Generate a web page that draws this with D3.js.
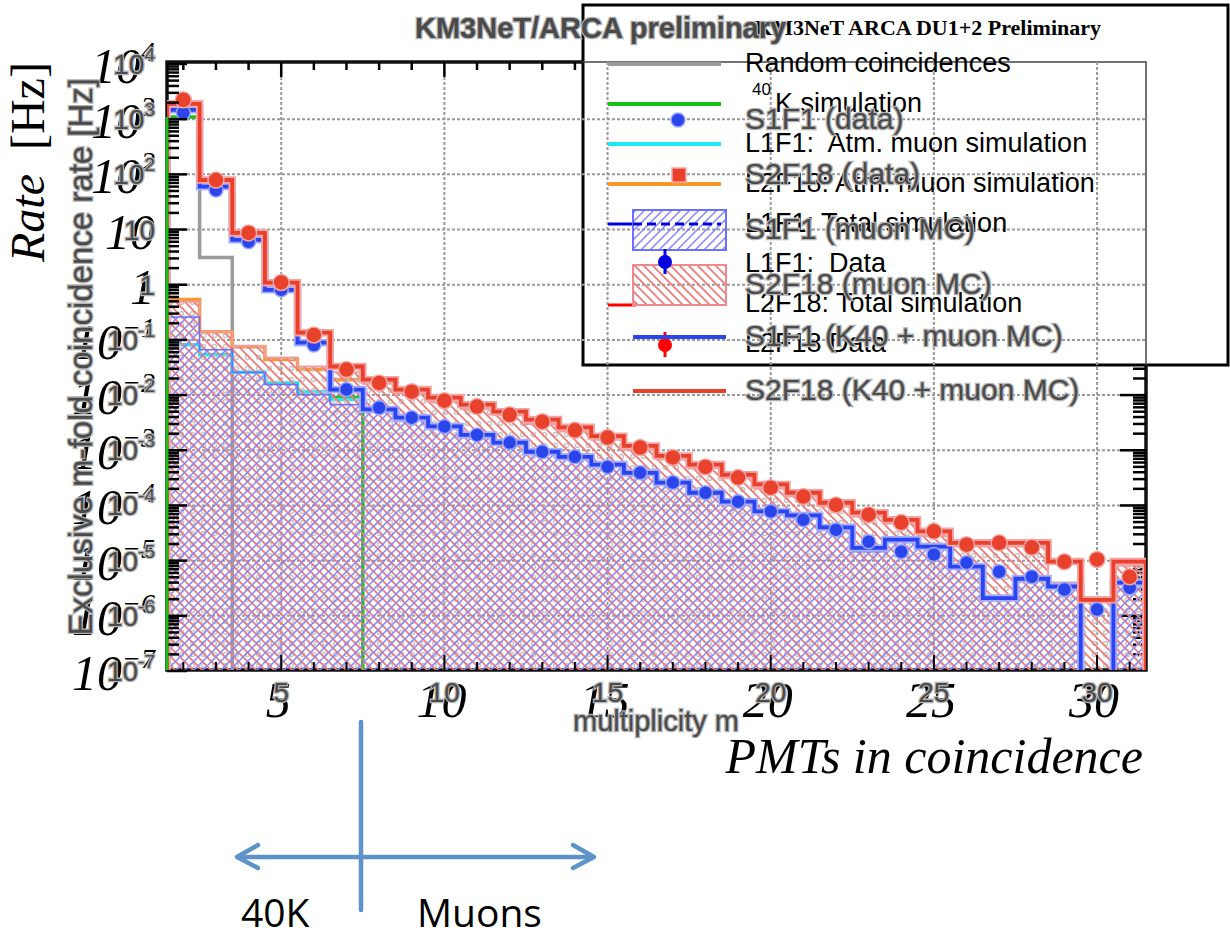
<!DOCTYPE html>
<html>
<head>
<meta charset="utf-8">
<script src="https://cdn.jsdelivr.net/npm/d3@7"></script>
<style>
  body { margin: 0; background: #fff; }
  svg { display: block; }
  text { white-space: pre; }
</style>
</head>
<body>
<script>
// multiplicity bins
var mult = [2,3,4,5,6,7,8,9,10,11,12,13,14,15,16,17,18,19,20,21,22,23,24,25,26,27,28,29,30,31];

// ROOT plot (S1F1 / S2F18)
var s2f18Data  = [2240,79,8.7,1.1,0.123,0.029,0.0166,0.0115,0.0079,0.0062,0.0044,0.0033,0.0023,0.0017,0.00112,7.4e-4,5.0e-4,3.2e-4,2.1e-4,1.45e-4,1.02e-4,6.8e-5,4.9e-5,3.4e-5,1.95e-5,2.1e-5,1.74e-5,9.5e-6,1.05e-5,5.1e-6];
var s1f1Data   = [1310,52,6.0,0.81,0.081,0.0126,0.0059,0.0039,0.0027,0.0019,0.00138,9.4e-4,7.6e-4,5.0e-4,3.9e-4,2.6e-4,1.7e-4,1.17e-4,7.8e-5,5.5e-5,3.6e-5,2.2e-5,1.45e-5,1.29e-5,9.2e-6,6.3e-6,5.1e-6,3.0e-6,1.3e-6,3.2e-6];
var s2f18Total = [1900,79,8.7,1.09,0.135,0.033,0.019,0.0126,0.0090,0.0067,0.0050,0.0036,0.0026,0.0018,0.0012,7.9e-4,5.5e-4,3.6e-4,2.4e-4,1.7e-4,1.12e-4,7.4e-5,5.5e-5,3.4e-5,2.1e-5,2.1e-5,2.1e-5,9.6e-6,1.95e-6,9.6e-6];
var s1f1Total  = [1480,60,6.5,0.81,0.089,0.0126,0.0055,0.0039,0.0027,0.0019,0.00138,9.4e-4,7.6e-4,5.5e-4,3.9e-4,2.6e-4,1.7e-4,1.17e-4,7.8e-5,6.6e-5,4.0e-5,1.7e-5,2.4e-5,1.8e-5,7.8e-6,2.1e-6,4.7e-6,3.4e-6,0,4.0e-6];
var s2f18Muon  = [0.49,0.14,0.078,0.048,0.033,0.026,0.016,0.0107,0.0076,0.0056,0.0043,0.0030,0.0022,0.00155,0.00102,6.8e-4,4.7e-4,3.1e-4,2.0e-4,1.45e-4,9.6e-5,6.3e-5,4.7e-5,2.8e-5,1.8e-5,1.8e-5,1.8e-5,4.0e-6,1.95e-6,8.1e-6];
var s1f1Muon   = [0.26,0.066,0.026,0.0155,0.0102,0.0067,0.0050,0.0036,0.0025,0.0018,0.00126,8.7e-4,7.1e-4,5.0e-4,3.6e-4,2.4e-4,1.58e-4,1.07e-4,7.1e-5,6.0e-5,3.6e-5,1.45e-5,2.2e-5,1.65e-5,7.2e-6,1.95e-6,4.4e-6,3.1e-6,0,3.7e-6];

// older plot (L1F1 / L2F18)
var randomCoinc  = [1480,3.1,0,0,0,0,0,0,0,0,0,0,0,0,0,0,0,0,0,0,0,0,0,0,0,0,0,0,0,0];
var k40Sim       = [1100,60,6.5,0.81,0.089,0.0090,0,0,0,0,0,0,0,0,0,0,0,0,0,0,0,0,0,0,0,0,0,0,0,0];
var l1f1AtmMuon  = [0.082,0.054,0.026,0.0166,0.0115,0.0083,0.0055,0.0039,0.0027,0.0019,0.00138,9.4e-4,7.6e-4,5.5e-4,3.9e-4,2.6e-4,1.7e-4,1.17e-4,7.8e-5,6.6e-5,4.0e-5,1.7e-5,2.4e-5,1.8e-5,7.8e-6,2.1e-6,4.7e-6,3.4e-6,0,4.0e-6];
var l2f18AtmMuon = [0.54,0.14,0.075,0.044,0.029,0.019,0.019,0.0126,0.0090,0.0067,0.0050,0.0036,0.0026,0.0018,0.0012,7.9e-4,5.5e-4,3.6e-4,2.4e-4,1.7e-4,1.12e-4,7.4e-5,5.5e-5,3.4e-5,2.1e-5,2.1e-5,2.1e-5,9.6e-6,1.95e-6,9.6e-6];

// ticks
var decades = [-7,-6,-5,-4,-3,-2,-1,0,1,2,3,4];
var xTickLabels = [5,10,15,20,25,30];

var rootLegend = ["S1F1 (data)", "S2F18 (data)", "S1F1 (muon MC)", "S2F18 (muon MC)", "S1F1 (K40 + muon MC)", "S2F18 (K40 + muon MC)"];
var oldLegend = ["Random coincidences", "K simulation", "L1F1:  Atm. muon simulation", "L2F18: Atm. muon simulation", "L1F1: Total simulation", "L1F1:  Data", "L2F18: Total simulation", "L2F18 Data"];

var width = 1230, height = 938;
var fLeft = 167, fRight = 1146, fTop = 62, fBottom = 670;

var svg = d3.select("body").append("svg")
  .attr("width", width)
  .attr("height", height);

var x = d3.scaleLinear().domain([1.5, 31.5]).range([fLeft, fRight]);
var y = d3.scaleLog().domain([1e-7, 1e4]).range([671, 64]);
function yv(v) { return v > 1e-7 ? Math.max(y(v), fTop) : fBottom + 4; }

var defs = svg.append("defs");
function hatch(id, d, color, w) {
  var p = defs.append("pattern").attr("id", id)
    .attr("patternUnits", "userSpaceOnUse").attr("width", 9).attr("height", 9);
  p.append("path").attr("d", d).attr("stroke", color).attr("stroke-width", w).attr("fill", "none");
}
hatch("hatchRed", "M0,0L9,9M-2,7L2,11M7,-2L11,2", "#ef7b7b", 1.8);
hatch("hatchBlue", "M0,9L9,0M-2,2L2,-2M7,11L11,7", "#8484ff", 1.5);
var pd = defs.append("pattern").attr("id", "dots")
  .attr("patternUnits", "userSpaceOnUse").attr("width", 11).attr("height", 11);
pd.append("circle").attr("cx", 5.5).attr("cy", 5.5).attr("r", 2)
  .attr("fill", "none").attr("stroke", "#c4c4c4").attr("stroke-width", 1.3);
defs.append("clipPath").attr("id", "frame").append("rect")
  .attr("x", fLeft).attr("y", fTop).attr("width", fRight - fLeft).attr("height", fBottom - fTop);

function steps(vals) {
  var pts = [[1.5, 0]];
  vals.forEach(function(v, i) {
    pts.push([mult[i] - 0.5, v]);
    pts.push([mult[i] + 0.5, v]);
  });
  pts.push([31.5, 0]);
  return pts;
}
var stepLine = d3.line().x(function(d) { return x(d[0]); }).y(function(d) { return yv(d[1]); });
var stepArea = d3.area().x(function(d) { return x(d[0]); }).y0(fBottom).y1(function(d) { return yv(d[1]); });

function rootText(sel) {
  return sel.attr("font-family", "Liberation Sans, Arial, sans-serif")
    .attr("fill", "#4a4a4a").attr("stroke", "#b4b4b4").attr("stroke-width", 2.6)
    .attr("paint-order", "stroke");
}

// old legend box
svg.append("rect").attr("x", 583).attr("y", 5).attr("width", 645).attr("height", 360)
  .attr("fill", "#fff").attr("stroke", "#000").attr("stroke-width", 3);

// ROOT frame
svg.append("path")
  .attr("d", "M583," + fTop + "H" + fLeft + "V" + fBottom + "H" + fRight + "V365")
  .attr("fill", "none").attr("stroke", "#111").attr("stroke-width", 3.5);
svg.append("path")
  .attr("d", "M583," + fTop + "H" + fRight + "V365")
  .attr("fill", "none").attr("stroke", "#444").attr("stroke-width", 1.5);

// grid
var grid = svg.append("g").attr("stroke", "#999").attr("stroke-width", 2).attr("stroke-dasharray", "3,2");
decades.slice(1, 11).forEach(function(e) {
  grid.append("line").attr("x1", fLeft).attr("x2", fRight).attr("y1", y(Math.pow(10, e))).attr("y2", y(Math.pow(10, e)));
});
xTickLabels.forEach(function(v) {
  grid.append("line").attr("x1", x(v)).attr("x2", x(v)).attr("y1", fTop).attr("y2", fBottom);
});

// right axis ticks (below the legend box)
var rt = svg.append("g").attr("stroke", "#000").attr("stroke-width", 2.5);
decades.forEach(function(e) {
  [1,2,3,4,5,6,7,8,9].forEach(function(k) {
    var yy = y(k * Math.pow(10, e));
    if (e < 4 && yy > 368 && yy < fBottom) {
      rt.append("line").attr("x1", fRight).attr("x2", fRight - (k === 1 ? 26 : 13)).attr("y1", yy).attr("y2", yy);
    }
  });
});

var plot = svg.append("g").attr("clip-path", "url(#frame)");

// older plot histograms (under the hatching)
[[randomCoinc, "#9a9a9a"], [k40Sim, "#1bbf1b"], [l1f1AtmMuon, "#1ee8f0"], [l2f18AtmMuon, "#f7982f"]].forEach(function(s) {
  plot.append("path").datum(steps(s[0])).attr("d", stepLine)
    .attr("fill", "none").attr("stroke", s[1]).attr("stroke-width", 3.5);
});

// hatched muon MC
plot.append("path").datum(steps(s2f18Muon)).attr("d", stepArea).attr("fill", "url(#dots)");
plot.append("path").datum(steps(s2f18Muon)).attr("d", stepArea).attr("fill", "url(#hatchRed)");
plot.append("path").datum(steps(s1f1Muon)).attr("d", stepArea).attr("fill", "url(#hatchBlue)");
plot.append("path").datum(steps(s2f18Muon)).attr("d", stepLine)
  .attr("fill", "none").attr("stroke", "#f29c9c").attr("stroke-width", 2);
plot.append("path").datum(steps(s1f1Muon)).attr("d", stepLine)
  .attr("fill", "none").attr("stroke", "#6e6eff").attr("stroke-width", 1.5);

// K40 + muon MC totals
[[s1f1Total, "#a6adff", "#2a44f0"], [s2f18Total, "#f4a4a4", "#e8402a"]].forEach(function(s) {
  plot.append("path").datum(steps(s[0])).attr("d", stepLine)
    .attr("fill", "none").attr("stroke", s[1]).attr("stroke-width", 7.5);
  plot.append("path").datum(steps(s[0])).attr("d", stepLine)
    .attr("fill", "none").attr("stroke", s[2]).attr("stroke-width", 3.8);
});

// data points
plot.selectAll(".bdot").data(s1f1Data).enter().append("circle")
  .attr("cx", function(d, i) { return x(mult[i]); })
  .attr("cy", function(d) { return yv(d); })
  .attr("r", 7).attr("fill", "#2a45ea").attr("stroke", "#9aa4ff").attr("stroke-width", 1.5);
plot.selectAll(".rdot").data(s2f18Data).enter().append("circle")
  .attr("cx", function(d, i) { return x(mult[i]); })
  .attr("cy", function(d) { return yv(d); })
  .attr("r", 8).attr("fill", "#e8412c").attr("stroke", "#f3a8a8").attr("stroke-width", 1.5);

// left / top / bottom ticks
var ax = svg.append("g").attr("stroke", "#000").attr("stroke-width", 2.5);
decades.forEach(function(e) {
  [1,2,3,4,5,6,7,8,9].forEach(function(k) {
    if (e === 4 && k > 1) return;
    var yy = y(k * Math.pow(10, e));
    ax.append("line").attr("x1", fLeft).attr("x2", fLeft + (k === 1 ? 20 : 12)).attr("y1", yy).attr("y2", yy);
  });
});
mult.forEach(function(m) {
  var len = m % 5 === 0 ? 15 : 8;
  if (x(m) < 580) ax.append("line").attr("x1", x(m)).attr("x2", x(m)).attr("y1", fTop).attr("y2", fTop + len);
  ax.append("line").attr("x1", x(m)).attr("x2", x(m)).attr("y1", fBottom).attr("y2", fBottom - len).attr("stroke-width", 2);
});
svg.append("line").attr("x1", fLeft).attr("x2", fLeft).attr("y1", y(1100)).attr("y2", fBottom)
  .attr("stroke", "#1bbf1b").attr("stroke-width", 3);

// old axis labels (Times italic)
var oldY = svg.append("g").attr("font-family", "Liberation Serif, Times New Roman, serif")
  .attr("font-style", "italic").attr("fill", "#000").attr("text-anchor", "end");
decades.forEach(function(e) {
  var t = oldY.append("text").attr("x", 155).attr("y", y(Math.pow(10, e)) + 19).attr("font-size", 50);
  if (e === 0) { t.text("1"); return; }
  if (e === 1) { t.text("10"); return; }
  t.append("tspan").text("10");
  t.append("tspan").attr("font-size", 28).attr("dy", -22).text(e < 0 ? "\u2212" + (-e) : String(e));
});
xTickLabels.forEach(function(v) {
  svg.append("text").attr("x", x(v) - 3).attr("y", 717)
    .attr("font-family", "Liberation Serif, Times New Roman, serif").attr("font-style", "italic")
    .attr("font-size", 50).attr("text-anchor", "middle").text(v);
});
svg.append("text").attr("x", 1143).attr("y", 773).attr("text-anchor", "end")
  .attr("font-family", "Liberation Serif, Times New Roman, serif").attr("font-style", "italic")
  .attr("font-size", 50).text("PMTs in coincidence");
var rate = svg.append("text").attr("transform", "translate(44,262) rotate(-90)")
  .attr("font-family", "Liberation Serif, Times New Roman, serif").attr("font-size", 48);
rate.append("tspan").attr("font-style", "italic").text("Rate");
rate.append("tspan").text("  [Hz]");

// ROOT axis labels
decades.forEach(function(e) {
  var t = svg.append("text").attr("x", 155).attr("y", y(Math.pow(10, e)) + 10)
    .attr("font-size", 28).attr("text-anchor", "end").call(rootText);
  if (e === 0) { t.text("1"); return; }
  if (e === 1) { t.text("10"); return; }
  t.append("tspan").text("10");
  t.append("tspan").attr("font-size", 19).attr("dy", -13).text(e < 0 ? "-" + (-e) : String(e));
});
xTickLabels.forEach(function(v) {
  svg.append("text").attr("x", x(v)).attr("y", 702).attr("font-size", 28)
    .attr("text-anchor", "middle").call(rootText).text(v);
});
svg.append("text").attr("x", 656).attr("y", 731).attr("font-size", 29)
  .attr("text-anchor", "middle").call(rootText).text("multiplicity m");
svg.append("text").attr("transform", "translate(92,78) rotate(-90)").attr("font-size", 33)
  .attr("text-anchor", "end").call(rootText).text("Exclusive m-fold coincidence rate [Hz]");

// old legend
svg.append("text").attr("x", 1101).attr("y", 35).attr("text-anchor", "end")
  .attr("font-family", "Liberation Serif, Times New Roman, serif").attr("font-weight", "bold")
  .attr("font-size", 22).text("KM3NeT ARCA DU1+2 Preliminary");
var oldRows = [72,112,152,192,232,272,312,352];
var oldColors = ["#9a9a9a", "#1bbf1b", "#1ee8f0", "#f7982f"];
oldColors.forEach(function(c, i) {
  svg.append("line").attr("x1", 608).attr("x2", 721).attr("y1", oldRows[i] - 8).attr("y2", oldRows[i] - 8)
    .attr("stroke", c).attr("stroke-width", 4);
});
svg.append("line").attr("x1", 608).attr("x2", 633).attr("y1", 224).attr("y2", 224).attr("stroke", "#0000e0").attr("stroke-width", 3);
svg.append("line").attr("x1", 608).attr("x2", 636).attr("y1", 305).attr("y2", 305).attr("stroke", "#ff0000").attr("stroke-width", 3);
oldLegend.forEach(function(s, i) {
  svg.append("text").attr("x", i === 1 ? 775 : 745).attr("y", oldRows[i])
    .attr("font-family", "Liberation Sans, Arial, sans-serif").attr("font-size", 27).attr("fill", "#000")
    .text(s);
});
svg.append("text").attr("x", 752).attr("y", 95).attr("font-family", "Liberation Sans, Arial, sans-serif")
  .attr("font-size", 17).text("40");

// ROOT legend
var rootRows = [120,175,230,285,337,391];
svg.append("rect").attr("x", 633).attr("y", 210).attr("width", 93).attr("height", 40)
  .attr("fill", "url(#hatchBlue)").attr("stroke", "#6f6fff").attr("stroke-width", 2);
svg.append("line").attr("x1", 633).attr("x2", 721).attr("y1", 224).attr("y2", 224)
  .attr("stroke", "#0000e0").attr("stroke-width", 3).attr("stroke-dasharray", "9,5");
svg.append("rect").attr("x", 633).attr("y", 265).attr("width", 93).attr("height", 40)
  .attr("fill", "url(#hatchRed)").attr("stroke", "#f08a8a").attr("stroke-width", 2);
[["#0000e0", 262], ["#ff0000", 345]].forEach(function(s) {
  svg.append("line").attr("x1", 665).attr("x2", 665).attr("y1", s[1] - 13).attr("y2", s[1] + 12)
    .attr("stroke", s[0]).attr("stroke-width", 3);
  svg.append("circle").attr("cx", 665).attr("cy", s[1]).attr("r", 7).attr("fill", s[0]);
});
svg.append("line").attr("x1", 633).attr("x2", 726).attr("y1", rootRows[4]).attr("y2", rootRows[4])
  .attr("stroke", "#2a44f0").attr("stroke-width", 4);
svg.append("line").attr("x1", 633).attr("x2", 726).attr("y1", rootRows[5]).attr("y2", rootRows[5])
  .attr("stroke", "#e8402a").attr("stroke-width", 4);
svg.append("circle").attr("cx", 678).attr("cy", rootRows[0]).attr("r", 7)
  .attr("fill", "#2a45ea").attr("stroke", "#9aa4ff").attr("stroke-width", 1.5);
svg.append("rect").attr("x", 672).attr("y", rootRows[1] - 7).attr("width", 14).attr("height", 14)
  .attr("fill", "#e8402a").attr("stroke", "#f3a8a8").attr("stroke-width", 1.5);
rootLegend.forEach(function(s, i) {
  svg.append("text").attr("x", 745).attr("y", rootRows[i] + 9).attr("font-size", 30).call(rootText).text(s);
});
svg.append("text").attr("x", 415).attr("y", 38).attr("font-size", 29).attr("font-weight", "bold")
  .call(rootText).text("KM3NeT/ARCA preliminary");

// annotation
var ann = svg.append("g").attr("stroke", "#5e93c9").attr("stroke-width", 4.5)
  .attr("fill", "none").attr("stroke-linecap", "round").attr("stroke-linejoin", "round");
ann.append("line").attr("x1", 361).attr("x2", 361).attr("y1", 722).attr("y2", 910);
ann.append("line").attr("x1", 238).attr("x2", 593).attr("y1", 857).attr("y2", 857);
ann.append("path").attr("d", "M258,845L237,857L258,868");
ann.append("path").attr("d", "M573,845L594,857L573,868");
svg.append("text").attr("x", 241).attr("y", 927).attr("font-family", "Open Sans, sans-serif")
  .attr("font-size", 39).text("40K");
svg.append("text").attr("x", 417).attr("y", 927).attr("font-family", "Open Sans, sans-serif")
  .attr("font-size", 39).text("Muons");
</script>
</body>
</html>
